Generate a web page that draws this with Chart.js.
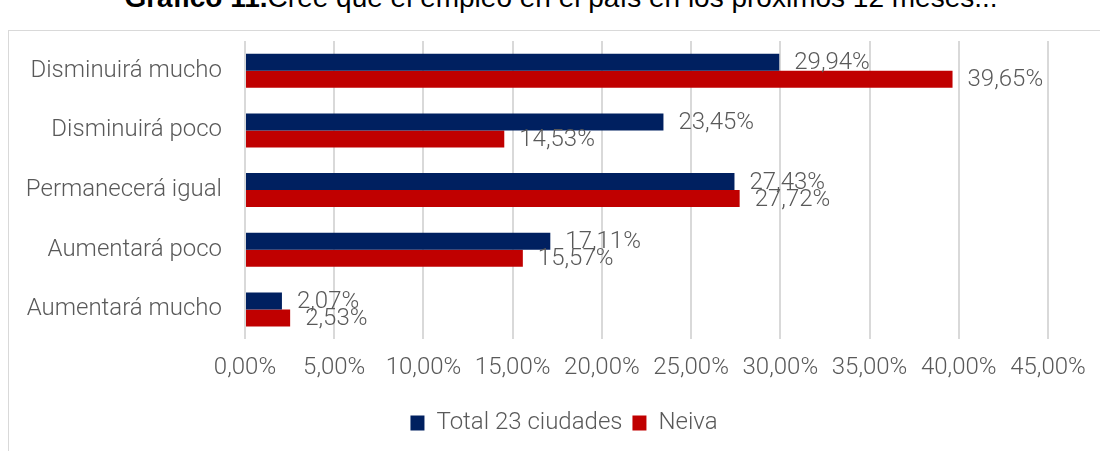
<!DOCTYPE html>
<html>
<head>
<meta charset="utf-8">
<script src="https://cdn.jsdelivr.net/npm/chart.js@4.4.0/dist/chart.umd.min.js"></script>
<style>
  body { margin: 0; background: #fff; overflow: hidden; }
  #wrap { position: relative; width: 1100px; height: 451px; }
  #title { position: absolute; top: -18px; left: 0; width: 1122px; text-align: center;
    font-family: "Liberation Sans", Arial, sans-serif; font-size: 28px; color: #000; white-space: nowrap; }
  #box { position: absolute; left: 8px; top: 30px; width: 1100px; height: 430px; border: 1px solid #d9d9d9; box-sizing: border-box; }
  canvas { position: absolute; left: 0; top: 0; }
</style>
</head>
<body>
<div id="wrap">
  <div id="title"><b>Gráfico 11.</b>Cree que el empleo en el país en los próximos 12 meses...</div>
  <div id="box"></div>
  <canvas id="myChart" width="1100" height="451"></canvas>
</div>
<script>
const categories = ['Disminuirá mucho', 'Disminuirá poco', 'Permanecerá igual', 'Aumentará poco', 'Aumentará mucho'];
const total23 = [29.94, 23.45, 27.43, 17.11, 2.07];
const neiva = [39.65, 14.53, 27.72, 15.57, 2.53];
const xTicks = [0, 5, 10, 15, 20, 25, 30, 35, 40, 45];

const fmt = (v) => v.toFixed(2).replace('.', ',') + '%';
const grey = '#595959';
const fontFam = 'Roboto, "Noto Sans", sans-serif';

// value labels to the right of each bar
const barLabels = {
  id: 'barLabels',
  afterDatasetsDraw(chart) {
    const ctx = chart.ctx;
    ctx.save();
    ctx.font = '300 24px ' + fontFam;
    ctx.fillStyle = grey;
    ctx.textBaseline = 'middle';
    ctx.textAlign = 'left';
    chart.data.datasets.forEach((ds, i) => {
      chart.getDatasetMeta(i).data.forEach((bar, j) => {
        ctx.fillText(fmt(ds.data[j]), bar.x + 15, bar.y + 1);
      });
    });
    ctx.restore();
  }
};

// legend sits a bit right of the canvas centre in the original
const legendShift = {
  id: 'legendShift',
  afterLayout(chart) {
    chart.legend.left += 40;
    chart.legend.right += 40;
  }
};

const ctx = document.getElementById('myChart').getContext('2d');
const myChart = new Chart(ctx, {
  type: 'bar',
  data: {
    labels: categories,
    datasets: [
      { label: 'Total 23 ciudades', data: total23, backgroundColor: '#002060' },
      { label: 'Neiva', data: neiva, backgroundColor: '#C00000' }
    ]
  },
  options: {
    indexAxis: 'y',
    responsive: false,
    animation: false,
    categoryPercentage: 0.57,
    barPercentage: 1.0,
    layout: { padding: { top: 41, right: 52, bottom: 6, left: 0 } },
    scales: {
      x: {
        min: 0, max: 45,
        afterBuildTicks: (s) => { s.ticks = xTicks.map(v => ({ value: v })); },
        afterFit: (s) => { s.height = s.height + 5; },
        grid: { color: '#d9d9d9', lineWidth: 2, drawTicks: false },
        border: { display: false },
        ticks: { color: grey, font: { family: fontFam, size: 24, weight: 300 }, padding: 14, callback: (v) => fmt(v) }
      },
      y: {
        grid: { display: false, drawTicks: false },
        border: { display: false },
        afterFit: (s) => { s.width = 245; },
        ticks: { color: grey, font: { family: fontFam, size: 24, weight: 300 }, padding: 23 }
      }
    },
    plugins: {
      legend: {
        position: 'bottom',
        labels: { color: grey, boxWidth: 14, boxHeight: 15, font: { family: fontFam, size: 24, weight: 300 }, padding: 10 }
      },
      tooltip: { enabled: false }
    }
  },
  plugins: [barLabels, legendShift]
});
</script>
</body>
</html>
